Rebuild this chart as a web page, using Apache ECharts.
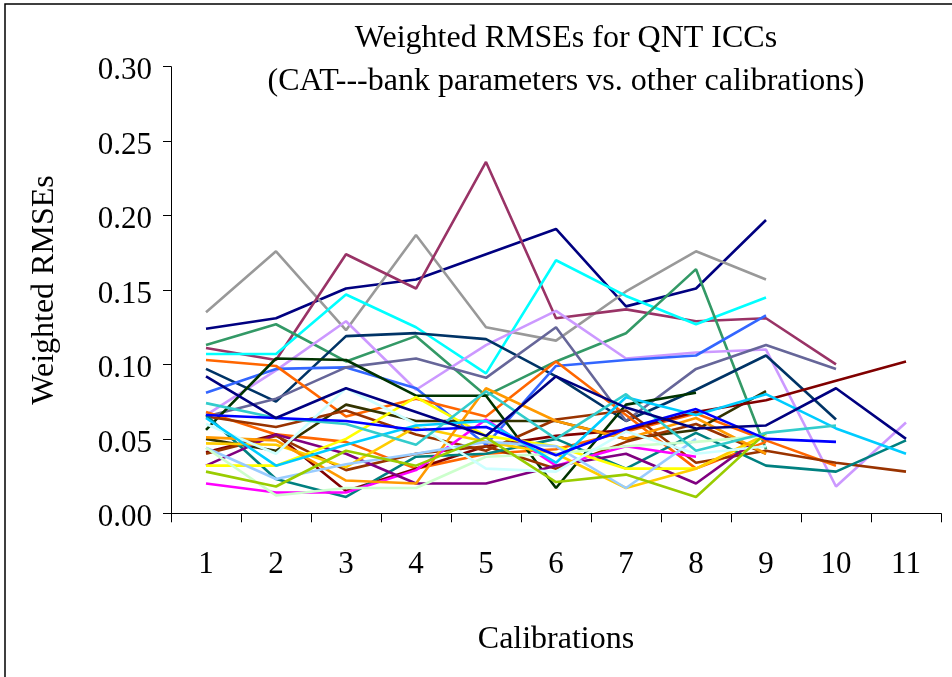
<!DOCTYPE html>
<html>
<head>
<meta charset="utf-8">
<script src="https://cdn.jsdelivr.net/npm/echarts@6/dist/echarts.min.js"></script>
<style>html,body{margin:0;padding:0;background:#fff}#c{width:952px;height:677px}</style>
</head>
<body>
<div id="c"></div>
<script>
const categories = ['1','2','3','4','5','6','7','8','9','10','11'];
const yTicks = [0, 0.05, 0.10, 0.15, 0.20, 0.25, 0.30];

const navy1 = [0.124,0.131,0.151,0.157,0.174,0.191,0.139,0.151,0.197];
const gray = [0.135,0.176,0.123,0.187,0.125,0.116,0.149,0.176,0.157];
const plum = [0.111,0.103,0.174,0.151,0.236,0.131,0.137,0.129,0.131,0.100];
const cyan = [0.107,0.107,0.147,0.125,0.094,0.170,0.146,0.127,0.145];
const seagreen = [0.113,0.127,0.102,0.119,0.079,0.102,0.121,0.164,0.043];
const lavender = [0.066,0.096,0.129,0.083,0.113,0.136,0.104,0.108,0.110,0.018,0.061];
const darkteal = [0.097,0.075,0.119,0.121,0.117,0.092,0.062,0.083,0.106,0.063];
const blue = [0.081,0.097,0.098,0.084,0.046,0.099,0.103,0.106,0.133];
const slate = [0.065,0.077,0.098,0.104,0.091,0.125,0.062,0.097,0.113,0.097];
const orange1 = [0.103,0.099,0.065,0.077,0.065,0.102,0.066,0.030,0.048];
const orange2 = [0.068,0.053,0.048,0.030,0.040,0.043,0.055,0.067,0.049,0.032];
const darkgreen = [0.056,0.104,0.103,0.079,0.079,0.017,0.073,0.081];
const olive = [0.050,0.042,0.073,0.062,0.062,0.062,0.050,0.056,0.082];
const darkred = [0.041,0.053,0.015,0.030,0.045,0.052,0.056,0.068,0.076,0.089,0.102];
const brown1 = [0.065,0.058,0.069,0.053,0.042,0.063,0.069,0.034,0.042,0.034,0.028];
const brown2 = [0.040,0.052,0.029,0.040,0.045,0.030,0.048,0.060,0.040];
const teal = [0.066,0.023,0.011,0.038,0.040,0.050,0.030,0.054,0.032,0.028,0.049];
const magenta = [0.020,0.014,0.014,0.029,0.063,0.032,0.045,0.038];
const purple = [0.032,0.053,0.040,0.020,0.020,0.032,0.040,0.020,0.054];
const yellow = [0.032,0.032,0.050,0.078,0.052,0.045,0.030,0.030,0.052];
const amber = [0.047,0.046,0.031,0.058,0.048,0.040,0.017,0.030,0.053];
const orange3 = [0.051,0.049,0.022,0.020,0.084,0.062,0.050,0.064,0.040];
const lightblue = [0.044,0.023,0.033,0.040,0.048,0.045,0.017,0.050];
const lightgreen = [0.044,0.012,0.017,0.017,0.038,0.040,0.045,0.048,0.052];
const lightcyan = [0.060,0.040,0.084,0.060,0.030,0.028,0.055,0.040,0.045];
const yellowgreen = [0.028,0.018,0.042,0.032,0.051,0.021,0.026,0.011,0.054];
const skyblue = [0.064,0.032,0.046,0.059,0.062,0.034,0.078,0.066,0.080,0.057,0.040];
const turquoise = [0.074,0.064,0.060,0.046,0.082,0.050,0.080,0.042,0.054,0.059];
const pureblue = [0.066,0.064,0.062,0.056,0.058,0.039,0.057,0.070,0.050,0.048];
const navy2 = [0.092,0.064,0.084,0.068,0.052,0.092,0.071,0.057,0.059,0.084,0.050];

const seriesList = [
  ['navy1', navy1, '#000080'], ['gray', gray, '#999999'], ['plum', plum, '#993366'],
  ['cyan', cyan, '#00FFFF'], ['seagreen', seagreen, '#339966'], ['lavender', lavender, '#CC99FF'],
  ['darkteal', darkteal, '#003366'], ['blue', blue, '#3366FF'], ['slate', slate, '#666699'],
  ['orange1', orange1, '#FF6600'], ['orange2', orange2, '#FF6600'], ['darkgreen', darkgreen, '#003300'],
  ['olive', olive, '#333300'], ['darkred', darkred, '#800000'], ['brown1', brown1, '#993300'],
  ['brown2', brown2, '#993300'], ['teal', teal, '#008080'], ['magenta', magenta, '#FF00FF'],
  ['purple', purple, '#800080'], ['yellow', yellow, '#FFFF00'], ['amber', amber, '#FFCC00'],
  ['orange3', orange3, '#FF9900'], ['lightblue', lightblue, '#99CCFF'], ['lightgreen', lightgreen, '#CCFFCC'],
  ['lightcyan', lightcyan, '#CCFFFF'], ['yellowgreen', yellowgreen, '#99CC00'], ['skyblue', skyblue, '#00CCFF'],
  ['turquoise', turquoise, '#33CCCC'], ['pureblue', pureblue, '#0000FF'], ['navy2', navy2, '#000080']
];

const FONT = '"Liberation Serif", "Times New Roman", serif';
const chart = echarts.init(document.getElementById('c'), null, {renderer: 'canvas'});
chart.setOption({
  animation: false,
  backgroundColor: '#ffffff',
  title: {
    text: 'Weighted RMSEs for QNT ICCs\n(CAT---bank parameters vs. other calibrations)',
    left: 561, top: 12, textAlign: 'center',
    textStyle: {fontFamily: FONT, fontSize: 32, fontWeight: 'normal', color: '#000', lineHeight: 43}
  },
  graphic: [{
    type: 'rect', shape: {x: 5, y: 4, width: 1000, height: 700},
    style: {fill: 'none', stroke: '#000', lineWidth: 1.5}, silent: true, z: -1
  }],
  grid: {left: 171, right: 11, top: 66.7, bottom: 163.7},
  xAxis: {
    type: 'category', data: categories, boundaryGap: true,
    name: 'Calibrations', nameLocation: 'middle', nameGap: 110,
    nameTextStyle: {fontFamily: FONT, fontSize: 32, color: '#000'},
    axisLine: {lineStyle: {color: '#000', width: 1}},
    axisTick: {show: true, length: 9, alignWithLabel: false, lineStyle: {color: '#000'}},
    axisLabel: {fontFamily: FONT, fontSize: 31, color: '#000', margin: 36},
    splitLine: {show: false}
  },
  yAxis: {
    type: 'value', min: 0, max: 0.30, interval: 0.05,
    name: 'Weighted RMSEs', nameLocation: 'middle', nameGap: 110,
    nameTextStyle: {fontFamily: FONT, fontSize: 32, color: '#000'},
    axisLine: {show: true, lineStyle: {color: '#000', width: 1}},
    axisTick: {show: true, length: 8, lineStyle: {color: '#000'}},
    axisLabel: {fontFamily: FONT, fontSize: 31, color: '#000', margin: 19,
      verticalAlign: 'top', lineHeight: 9, formatter: v => v.toFixed(2)},
    splitLine: {show: false}
  },
  series: seriesList.map(([name, data, color]) => ({
    name, type: 'line', data, symbol: 'none',
    lineStyle: {color, width: 2.6}, itemStyle: {color}
  }))
});
</script>
</body>
</html>
